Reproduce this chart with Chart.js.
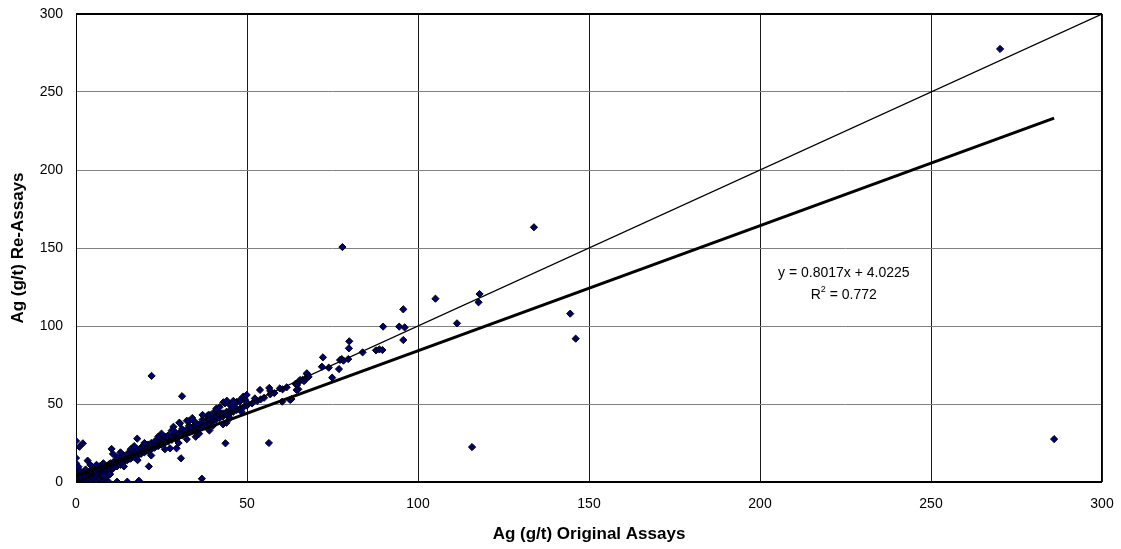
<!DOCTYPE html>
<html>
<head>
<meta charset="utf-8">
<title>Ag check assays</title>
<script src="https://cdn.jsdelivr.net/npm/chart.js@4.4.0/dist/chart.umd.min.js"></script>
<style>
  html, body { margin: 0; padding: 0; background: #ffffff; }
  #wrap { width: 1121px; height: 549px; }
</style>
</head>
<body>
<div id="wrap"><canvas id="chart" width="1121" height="549"></canvas></div>
<script>
// Ag (g/t): original assay vs. re-assay of the same sample
const originalAssays = [
  0, 0, 0, 0, 0, 0, 0, 0, 0, 0,
  0.3, 0.5, 0.5, 0.7, 1, 1, 1, 1, 1, 1.2,
  1.5, 1.5, 1.8, 2, 2, 2, 2, 2, 2.3, 2.5,
  2.5, 2.8, 3, 3, 3, 3, 3.4, 3.5, 3.5, 3.8,
  4, 4, 4, 4, 4.2, 4.5, 4.5, 5, 5, 5,
  5, 5.3, 5.5, 5.8, 6, 6, 6, 6, 6.5, 6.5,
  7, 7, 7, 7, 7.5, 7.5, 8, 8, 8, 8,
  8.5, 8.5, 9, 9, 9, 9, 9.5, 9.5, 10, 10,
  10, 10.4, 10.8, 11, 11, 11, 11.5, 12, 12, 12,
  12, 12.5, 13, 13, 13, 13.5, 14, 14, 14, 14.5,
  15, 15, 15, 15, 15.5, 16, 16, 16, 16.5, 17,
  17, 17, 17.9, 18, 18, 18, 18.4, 18.5, 19, 19,
  19, 19.5, 20, 20, 20, 20.5, 21, 21.3, 21, 21,
  22, 22, 22, 22.1, 22.5, 23, 23, 23, 24, 24,
  24, 24.5, 25, 25, 25, 25.5, 26, 26, 26, 27,
  27, 27, 27.5, 28, 28, 28.5, 29, 29, 29.4, 29,
  30, 30, 30.2, 30.4, 30.7, 31, 31, 31, 31, 32,
  32, 32.4, 32.4, 33, 33, 33, 34, 34, 34.3, 35,
  35, 35, 36, 36, 36.8, 37, 37, 37, 38, 38,
  38.4, 38.7, 39, 39, 39.2, 40, 40, 40, 41, 41.3,
  41, 42, 42, 42.3, 43, 43, 43.1, 43.6, 43.7, 44,
  44, 44.1, 45, 45, 45, 46, 46, 46, 47, 47,
  47, 47.9, 48, 48, 48.4, 48.9, 49, 49.4, 50, 50,
  51.5, 52.3, 53, 54, 55, 56.5, 56.8, 56.8, 56.4, 58,
  60.3, 60.4, 61.6, 63, 64.2, 64.6, 65, 65.2, 66.3, 66.7,
  67.2, 67.8, 67.6, 71.9, 72.2, 73.9, 74.9, 76.9, 77.2, 77.7,
  77.9, 78.2, 79.6, 79.8, 79.9, 83.8, 87.7, 88.7, 89.6, 89.8,
  94.5, 95.7, 95.7, 96.1, 105.1, 111.4, 115.8, 117.7, 118, 133.9,
  144.5, 146.1, 270.2, 286,
  49.9, 53.8, 59.6, 62.6, 64.5, 65.5, 67.5, 68,
  12, 14, 16, 18, 20, 22, 24, 26, 28, 30,
  33, 35, 37, 39, 41, 43, 45, 10, 8, 6,
  13, 17, 25, 34, 36, 40, 42, 44, 46
];
const reAssays = [
  0, 1, 2, 3, 5, 8, 10, 12, 15.4, 26.3,
  0.5, 0.2, 2, 9.8, 22.6, 0.4, 1.5, 3, 4.5, 7,
  0.8, 2.5, 5, 24.8, 1, 2, 3.5, 6, 0.3, 4,
  1.5, 8, 0.5, 2.5, 4, 6, 13.7, 1, 3, 5,
  0.2, 2, 4, 7, 11, 3, 5.5, 1, 4, 6,
  8, 2.5, 5, 7, 0.3, 3.5, 6, 9, 5, 7.5,
  2, 6, 8, 10, 4, 7, 1, 7, 9, 12,
  6, 8.5, 0.2, 3.4, 8, 10, 0.2, 11, 7, 9.5,
  12, 21.2, 18, 9, 11, 13, 10, 0.2, 10, 12,
  14, 11.5, 11, 13, 15.5, 12, 13, 15, 17, 14,
  0.2, 14, 16, 18, 15, 15, 17, 19, 16, 16,
  18, 20, 27.8, 17, 19, 21, 0.8, 18, 18, 20,
  22, 19.5, 19, 21, 23, 20, 20, 10, 22, 24,
  21, 23, 25, 68, 22, 22, 24, 26, 23, 25,
  27, 24, 24, 26, 28, 25, 25, 27, 29, 26,
  28, 30, 21.6, 27, 29, 35.4, 28, 30, 21.6, 32,
  29, 31, 38, 37.6, 15.2, 55, 30, 32, 34, 31,
  33, 27.4, 39.3, 32, 34, 36, 33, 35, 39.3, 34,
  36, 38, 35, 37, 2.1, 36, 38, 40, 37, 39,
  42.3, 43, 38, 40, 42.9, 39, 41, 44, 40, 45.1,
  42, 41, 43, 44, 42, 44, 51.1, 50.4, 24.8, 43,
  45, 52.1, 44, 46, 49.4, 45, 46.2, 48.3, 46.2, 47,
  51.3, 51.5, 47, 52.6, 45.1, 54.7, 48, 53, 49, 51,
  50.4, 53.6, 52, 53, 54, 60.3, 58.3, 56.2, 25, 57,
  51.5, 59.4, 60.7, 53.2, 63, 62.2, 59.4, 64.1, 65.6, 64.7,
  66.2, 67.3, 69, 73.9, 79.9, 73.3, 66.9, 72.4, 78.2, 78.8,
  150.6, 77.8, 78.8, 85.7, 90.2, 83.1, 84.4, 85, 84.6, 99.6,
  99.6, 91, 110.7, 99.1, 117.5, 101.7, 22.4, 115.2, 120.5, 163.3,
  107.9, 91.9, 277.6, 27.5,
  55.8, 59, 60, 52.6, 59, 65.4, 69.7, 67.5,
  16, 10, 21, 14, 25, 17, 29, 21, 33, 25,
  39, 29, 43, 33, 47, 37, 41, 5, 4, 11,
  19, 23, 31, 41, 31, 36, 48, 38, 52
];

// Axis range and tick labels (g/t)
const axisTicks = [0, 50, 100, 150, 200, 250, 300];

// Least-squares fit of re-assay on original assay
const trendSlope = 0.8017;
const trendIntercept = 4.0225;
const trendR2 = 0.772;

// 1:1 reference line end points
const parityEnds = [0, 300];

const FONT = "'Liberation Sans', Arial, Helvetica, sans-serif";

const samplePoints = originalAssays.map((x, i) => ({ x: x, y: reAssays[i] }));
const xMin = Math.min(...originalAssays);
const xMax = Math.max(...originalAssays);
const trendPoints = [
  { x: xMin, y: trendSlope * xMin + trendIntercept },
  { x: xMax, y: trendSlope * xMax + trendIntercept }
];
const parityPoints = parityEnds.map(v => ({ x: v, y: v }));

// Keep the plot area fixed: no extra room reserved for edge tick labels
function fixScaleBox(scale, size) {
  if (scale.isHorizontal()) scale.height = size; else scale.width = size;
  scale.paddingLeft = 0;
  scale.paddingRight = 0;
  scale.paddingTop = 0;
  scale.paddingBottom = 0;
}

// Plot frame plus the fitted-equation label
const frameAndEquation = {
  id: 'frameAndEquation',
  beforeDatasetsDraw(chart) {
    const { ctx, chartArea: a } = chart;
    ctx.save();
    ctx.strokeStyle = '#000000';
    ctx.lineWidth = 1;
    ctx.beginPath();
    ctx.moveTo(Math.round(a.left) + 0.5, a.top);
    ctx.lineTo(Math.round(a.left) + 0.5, a.bottom);
    ctx.moveTo(Math.round(a.right) - 0.5, a.top);
    ctx.lineTo(Math.round(a.right) - 0.5, a.bottom);
    ctx.stroke();
    ctx.lineWidth = 2;
    ctx.beginPath();
    ctx.moveTo(a.left, Math.round(a.top));
    ctx.lineTo(a.right, Math.round(a.top));
    ctx.moveTo(a.left, Math.round(a.bottom));
    ctx.lineTo(a.right, Math.round(a.bottom));
    ctx.stroke();
    ctx.restore();
  },
  afterDraw(chart, args, opts) {
    const { ctx, scales } = chart;
    const cx = scales.x.getPixelForValue(opts.centerX);
    const y1 = scales.y.getPixelForValue(opts.line1Y);
    const y2 = scales.y.getPixelForValue(opts.line2Y);
    ctx.save();
    ctx.fillStyle = '#000000';
    ctx.textBaseline = 'middle';
    ctx.font = '14px ' + FONT;
    const eq = 'y = ' + trendSlope.toFixed(4) + 'x + ' + trendIntercept.toFixed(4);
    ctx.textAlign = 'center';
    ctx.fillText(eq, cx, y1);
    // R² with a raised, smaller "2"
    const partR = 'R';
    const partSup = '2';
    const partRest = ' = ' + trendR2.toFixed(3);
    ctx.font = '14px ' + FONT;
    const wR = ctx.measureText(partR).width;
    const wRest = ctx.measureText(partRest).width;
    ctx.font = '9px ' + FONT;
    const wSup = ctx.measureText(partSup).width;
    let x = cx - (wR + wSup + wRest) / 2;
    ctx.textAlign = 'left';
    ctx.font = '14px ' + FONT;
    ctx.fillText(partR, x, y2);
    x += wR;
    ctx.font = '9px ' + FONT;
    ctx.fillText(partSup, x, y2 - 5);
    x += wSup;
    ctx.font = '14px ' + FONT;
    ctx.fillText(partRest, x, y2);
    ctx.restore();
  }
};

new Chart(document.getElementById('chart'), {
  type: 'scatter',
  data: {
    datasets: [
      {
        label: 'Parity',
        data: parityPoints,
        showLine: true,
        borderColor: '#000000',
        borderWidth: 1.2,
        pointRadius: 0,
        fill: false,
        order: 1
      },
      {
        label: 'Linear fit',
        data: trendPoints,
        showLine: true,
        borderColor: '#000000',
        borderWidth: 3,
        pointRadius: 0,
        fill: false,
        order: 0
      },
      {
        label: 'Ag re-assays',
        data: samplePoints,
        showLine: false,
        pointStyle: 'rectRot',
        pointRadius: 3.6,
        backgroundColor: '#000070',
        borderColor: '#000000',
        borderWidth: 1,
        order: 2
      }
    ]
  },
  options: {
    responsive: false,
    animation: false,
    events: [],
    layout: { autoPadding: false, padding: { top: 14, right: 19, bottom: 0, left: 0 } },
    plugins: {
      legend: { display: false },
      tooltip: { enabled: false },
      frameAndEquation: { centerX: 224.5, line1Y: 134, line2Y: 120 }
    },
    scales: {
      x: {
        type: 'linear',
        min: axisTicks[0],
        max: axisTicks[axisTicks.length - 1],
        afterBuildTicks(scale) { scale.ticks = axisTicks.map(v => ({ value: v })); },
        afterFit(scale) { fixScaleBox(scale, 67); },
        border: { display: false },
        grid: { color: '#1a1a1a', lineWidth: 1, drawTicks: false },
        ticks: { color: '#000000', padding: 14, font: { family: FONT, size: 14 } },
        title: {
          display: true,
          text: 'Ag (g/t) Original Assays',
          color: '#000000',
          font: { family: FONT, size: 17, weight: 'bold' },
          padding: { top: 0, bottom: 4 }
        }
      },
      y: {
        type: 'linear',
        min: axisTicks[0],
        max: axisTicks[axisTicks.length - 1],
        afterBuildTicks(scale) { scale.ticks = axisTicks.map(v => ({ value: v })); },
        afterFit(scale) { fixScaleBox(scale, 76); },
        border: { display: false },
        grid: { color: '#808080', lineWidth: 1, drawTicks: false },
        ticks: { color: '#000000', padding: 13, font: { family: FONT, size: 14 } },
        title: {
          display: true,
          text: 'Ag (g/t) Re-Assays',
          color: '#000000',
          font: { family: FONT, size: 17, weight: 'bold' },
          padding: { top: 8, bottom: 0 }
        }
      }
    }
  },
  plugins: [frameAndEquation]
});
</script>
</body>
</html>
